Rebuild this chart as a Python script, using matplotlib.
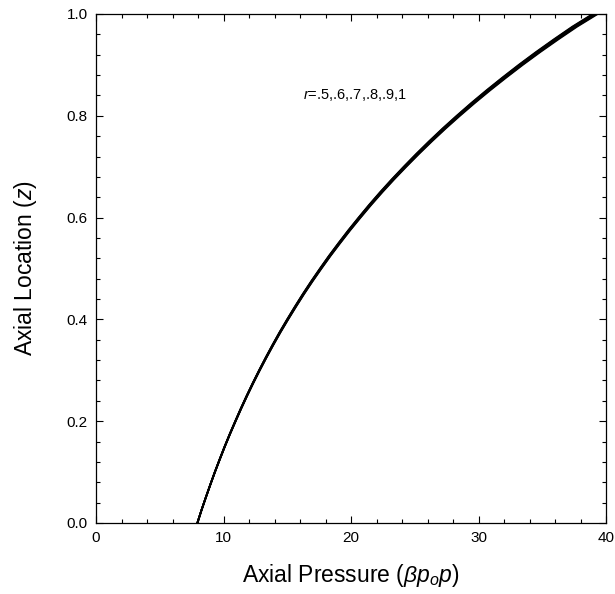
import numpy as np
from matplotlib import pyplot as plt
from matplotlib.ticker import MultipleLocator

plt.rcParams["font.family"] = ["Liberation Sans", "DejaVu Sans"]
plt.rcParams["mathtext.fontset"] = "custom"
plt.rcParams["mathtext.rm"] = "Liberation Sans"
plt.rcParams["mathtext.it"] = "Liberation Sans:italic"

z = [0, .025, .05, .075, .1, .125, .15, .175, .2, .225, .25, .275, .3, .325,
     .35, .375, .4, .425, .45, .475, .5, .525, .55, .575, .6, .625, .65, .675,
     .7, .725, .75, .775, .8, .825, .85, .875, .9, .925, .95, .975, 1.0]
p_mid = [7.95, 8.27, 8.61, 8.96, 9.32, 9.70, 10.09, 10.50, 10.93, 11.37,
         11.83, 12.31, 12.81, 13.33, 13.87, 14.43, 15.02, 15.63, 16.26, 16.92,
         17.61, 18.32, 19.07, 19.84, 20.65, 21.48, 22.35, 23.26, 24.21, 25.19,
         26.21, 27.27, 28.38, 29.53, 30.73, 31.98, 33.27, 34.62, 36.03, 37.49,
         39.10]
r_values = [.5, .6, .7, .8, .9, 1]
# end pressure (z = 1) of each r curve, they fan out slightly at the top
p_end = [38.95, 39.02, 39.10, 39.18, 39.26, 39.35]

fig = plt.figure(figsize=(6.15, 5.94), dpi=100)
ax = fig.add_axes([96 / 615, 71 / 594, 510 / 615, 509 / 594])

p_mid = np.array(p_mid)
for pe in p_end:
    p = p_mid[0] + (p_mid - p_mid[0]) * (pe - p_mid[0]) / (p_mid[-1] - p_mid[0])
    ax.plot(p, z, color="k", lw=1.3, solid_joinstyle="round")

ax.set_xlim(0, 40)
ax.set_ylim(0, 1)
ax.xaxis.set_major_locator(MultipleLocator(10))
ax.xaxis.set_minor_locator(MultipleLocator(2))
ax.yaxis.set_major_locator(MultipleLocator(0.2))
ax.yaxis.set_minor_locator(MultipleLocator(0.04))
ax.yaxis.set_major_formatter(plt.FormatStrFormatter("%.1f"))
ax.tick_params(which="both", direction="in", top=True, right=True,
               labelsize=11, width=0.8, pad=6)
ax.tick_params(which="major", length=5)
ax.tick_params(which="minor", length=3)
for s in ax.spines.values():
    s.set_linewidth(0.9)

ax.set_xlabel(r"Axial Pressure ($\beta p_o p$)", fontsize=16.5, labelpad=12)
ax.set_ylabel(r"Axial Location ($z$)", fontsize=16.5, labelpad=20)
ax.text(16.2, 0.84, r"$r$=.5,.6,.7,.8,.9,1", fontsize=10.5, va="center")

fig.savefig("out.png", dpi=100)
